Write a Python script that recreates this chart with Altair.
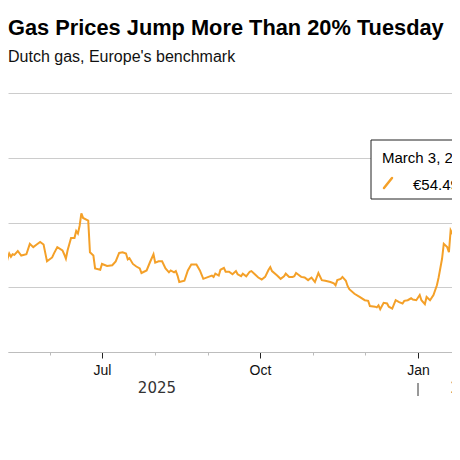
import altair as alt
import pandas as pd

title_text = "Gas Prices Jump More Than 20% Tuesday"
subtitle_text = "Dutch gas, Europe's benchmark"

dates = [
    "2025-05-03", "2025-05-04", "2025-05-06", "2025-05-07", "2025-05-08", "2025-05-09",
    "2025-05-10", "2025-05-11", "2025-05-13", "2025-05-15", "2025-05-18", "2025-05-20",
    "2025-05-22", "2025-05-24", "2025-05-26", "2025-05-28", "2025-05-30", "2025-06-02",
    "2025-06-03", "2025-06-05", "2025-06-08", "2025-06-09", "2025-06-10", "2025-06-11",
    "2025-06-13", "2025-06-15", "2025-06-16", "2025-06-17", "2025-06-18", "2025-06-19",
    "2025-06-20", "2025-06-23", "2025-06-24", "2025-06-26", "2025-06-27", "2025-06-30",
    "2025-07-01", "2025-07-04", "2025-07-07", "2025-07-09", "2025-07-11", "2025-07-13",
    "2025-07-15", "2025-07-16", "2025-07-17", "2025-07-19", "2025-07-21", "2025-07-23",
    "2025-07-24", "2025-07-27", "2025-07-29", "2025-07-31", "2025-08-01", "2025-08-03",
    "2025-08-05", "2025-08-07", "2025-08-09", "2025-08-10", "2025-08-12", "2025-08-13",
    "2025-08-14", "2025-08-15", "2025-08-18", "2025-08-20", "2025-08-22", "2025-08-25",
    "2025-08-27", "2025-08-29", "2025-09-01", "2025-09-03", "2025-09-04", "2025-09-05",
    "2025-09-07", "2025-09-08", "2025-09-10", "2025-09-11", "2025-09-13", "2025-09-15",
    "2025-09-17", "2025-09-18", "2025-09-20", "2025-09-21", "2025-09-23", "2025-09-25",
    "2025-09-26", "2025-09-28", "2025-09-30", "2025-10-02", "2025-10-04", "2025-10-06",
    "2025-10-07", "2025-10-08", "2025-10-11", "2025-10-13", "2025-10-15", "2025-10-16",
    "2025-10-18", "2025-10-20", "2025-10-21", "2025-10-22", "2025-10-23", "2025-10-25",
    "2025-10-27", "2025-10-29", "2025-10-31", "2025-11-02", "2025-11-04", "2025-11-06",
    "2025-11-08", "2025-11-11", "2025-11-13", "2025-11-14", "2025-11-15", "2025-11-17",
    "2025-11-18", "2025-11-20", "2025-11-21", "2025-11-22", "2025-11-25", "2025-11-28",
    "2025-12-01", "2025-12-03", "2025-12-04", "2025-12-07", "2025-12-08", "2025-12-09",
    "2025-12-10", "2025-12-12", "2025-12-14", "2025-12-15", "2025-12-17", "2025-12-19",
    "2025-12-21", "2025-12-23", "2025-12-24", "2025-12-26", "2025-12-28", "2025-12-29",
    "2025-12-31", "2026-01-02", "2026-01-03", "2026-01-05", "2026-01-06", "2026-01-08",
    "2026-01-10", "2026-01-12", "2026-01-13", "2026-01-15", "2026-01-16", "2026-01-18",
    "2026-01-19", "2026-01-20", "2026-01-21", "2026-01-22", "2026-01-23", "2026-01-24",
    "2026-01-25", "2026-01-26",
]
prices = [
    32.9, 32.6, 33.1, 34.4, 35.2, 34.7,
    35.1, 35.0, 35.6, 34.9, 35.1, 36.7,
    36.2, 36.6, 37.0, 36.6, 34.0, 34.6,
    35.2, 36.2, 35.7, 35.1, 34.4, 35.7,
    37.6, 37.6, 38.7, 38.3, 39.5, 41.4,
    40.7, 40.3, 35.4, 34.9, 32.9, 32.7,
    33.6, 33.3, 33.4, 34.0, 35.3, 35.4,
    35.2, 34.3, 34.5, 33.6, 33.2, 32.9,
    32.2, 32.6, 33.9, 35.1, 33.8, 34.0,
    34.0, 32.9, 32.3, 32.6, 32.3, 32.5,
    31.8, 30.8, 31.0, 32.6, 33.5, 33.5,
    32.6, 31.3, 31.6, 31.8, 31.6, 32.1,
    31.8, 32.7, 33.0, 32.4, 32.4, 32.0,
    32.5, 32.0, 31.7, 32.1, 31.7, 32.4,
    32.5, 32.0, 31.5, 31.2, 31.6, 32.7,
    33.1, 32.5, 31.8, 31.3, 31.7, 32.1,
    31.6, 31.6, 31.7, 32.2, 32.0, 31.6,
    31.5, 31.1, 31.5, 30.8, 32.2, 31.1,
    31.0, 30.8, 30.6, 30.3, 31.1, 31.3,
    31.6, 31.0, 30.2, 29.7, 29.0, 28.5,
    28.0, 27.9, 27.1, 27.0, 26.9, 27.2,
    26.6, 27.6, 27.5, 27.0, 26.7, 28.0,
    27.7, 27.5, 27.9, 28.0, 28.3, 28.1,
    28.0, 28.8, 28.0, 27.4, 28.5, 28.0,
    28.8, 30.3, 31.5, 34.4, 36.7, 36.2,
    35.4, 38.8, 38.3, 39.3, 39.9, 39.4,
    39.0, 38.6,
]

grid_values = [20, 30, 40, 50, 60]
month_ticks = [(2025, 6), (2025, 7), (2025, 8), (2025, 9), (2025, 10),
               (2025, 11), (2025, 12), (2026, 1)]
year_labels = ["2025", "2026"]
year_label_dates = ["2025-08-02", "2026-01-31"]
year_breaks = ["2026-01-01"]
tooltip_date = ["March 3, 2026"]
tooltip_value = ["€54.49"]

ORANGE = "#F4A028"
FONT = "Liberation Sans"
W, H = 444, 259

df = pd.DataFrame({"date": pd.to_datetime(dates), "price": prices})
years_df = pd.DataFrame({"date": pd.to_datetime(year_label_dates), "label": year_labels})
breaks_df = pd.DataFrame({"date": pd.to_datetime(year_breaks)})
tip_df = pd.DataFrame({"when": tooltip_date, "value": tooltip_value})

xscale = alt.Scale(domain=[alt.DateTime(year=2025, month=5, date=7, hours=7),
                           alt.DateTime(year=2026, month=1, date=20, hours=19)])
yscale = alt.Scale(domain=[20, 60], nice=False, zero=False)

quarter_test = ("month(datum.value) == 0 || month(datum.value) == 3 || "
                "month(datum.value) == 6 || month(datum.value) == 9")

x_axis = alt.Axis(
    title=None,
    values=[alt.DateTime(year=y, month=m, date=1) for y, m in month_ticks],
    labelExpr="(" + quarter_test + ") ? timeFormat(datum.value, '%b') : ''",
    tickColor={"condition": {"test": quarter_test, "value": "#222222"}, "value": "#bbbbbb"},
    tickSize={"condition": {"test": quarter_test, "value": 6}, "value": 3},
    tickWidth=1,
    domainColor="#bdbdbd",
    labelFont=FONT,
    labelFontSize=14,
    labelColor="#111111",
    labelPadding=5,
    grid=False,
)
y_axis = alt.Axis(
    title=None, values=grid_values, grid=True, gridColor="#cccccc",
    labels=False, ticks=False, domain=False,
)

X = alt.X("date:T", scale=xscale, axis=x_axis)

line = alt.Chart(df).mark_line(color=ORANGE, strokeWidth=2, clip=True).encode(
    x=X,
    y=alt.Y("price:Q", scale=yscale, axis=y_axis),
)

year_text = alt.Chart(years_df).mark_text(
    font="DejaVu Sans", fontSize=15, color="#333333", baseline="alphabetic", align="center"
).encode(
    x=X,
    y=alt.value(H + 41),
    text="label:N",
)

year_rule = alt.Chart(breaks_df).mark_rule(color="#333333", strokeWidth=1).encode(
    x=X,
    y=alt.value(H + 31),
    y2=alt.value(H + 44),
)

tip_box = alt.Chart(tip_df).mark_rect(fill="white", stroke="#222222", strokeWidth=1).encode(
    x=alt.value(363), x2=alt.value(470), y=alt.value(47), y2=alt.value(106),
)
tip_when = alt.Chart(tip_df).mark_text(
    font=FONT, fontSize=15, color="#000000", align="left", baseline="alphabetic"
).encode(x=alt.value(374), y=alt.value(70), text="when:N")
tip_value = alt.Chart(tip_df).mark_text(
    font=FONT, fontSize=15, color="#000000", align="left", baseline="alphabetic"
).encode(x=alt.value(405), y=alt.value(97), text="value:N")
tip_swatch = alt.Chart(tip_df).mark_rule(color=ORANGE, strokeWidth=2.5, strokeCap="round").encode(
    x=alt.value(376), x2=alt.value(384), y=alt.value(95), y2=alt.value(85),
)

chart = alt.layer(line, year_text, year_rule, tip_box, tip_when, tip_value, tip_swatch).properties(
    width=W,
    height=H,
    autosize=alt.AutoSizeParams(type="none"),
    padding={"left": 0, "top": 85, "right": 0, "bottom": 60},
    title=alt.TitleParams(
        text=title_text,
        subtitle=subtitle_text,
        anchor="start",
        frame="group",
        font=FONT,
        fontSize=21.8,
        fontWeight="bold",
        color="#000000",
        subtitleFont=FONT,
        subtitleFontSize=16,
        subtitleColor="#111111",
        subtitlePadding=9,
        offset=28,
    ),
).configure(background="white", view=alt.ViewConfig(stroke=None))

chart.save("out.html", embed_options={"renderer": "svg", "actions": False})
